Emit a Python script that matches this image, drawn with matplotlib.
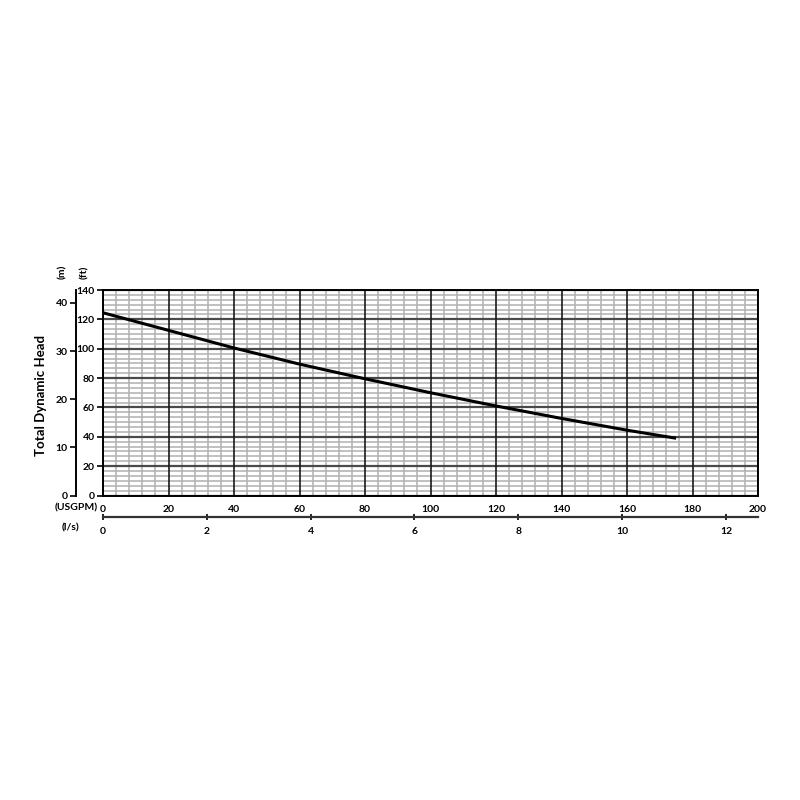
import matplotlib
matplotlib.use("Agg")
import matplotlib.pyplot as plt
import numpy as np
from matplotlib.ticker import MultipleLocator, FixedLocator

plt.rcParams['font.family'] = ['Lato', 'DejaVu Sans']
plt.rcParams['font.weight'] = 'bold'

# Pump curve data (flow in USGPM, head in ft)
flow_usgpm = [0, 20, 40, 60, 80, 100, 120, 140, 160, 175]
head_ft = [124.5, 112.5, 100.5, 89.5, 79.5, 70.0, 61.0, 52.5, 44.5, 39.0]

x_ticks = [0, 20, 40, 60, 80, 100, 120, 140, 160, 180, 200]
y_ticks_ft = [0, 20, 40, 60, 80, 100, 120, 140]
y_ticks_m = [0, 10, 20, 30, 40]
x_ticks_ls = [0, 2, 4, 6, 8, 10, 12]

FT_PER_M = 3.28084
USGPM_PER_LS = 15.850323

fig = plt.figure(figsize=(8, 8), dpi=100)
ax = fig.add_axes([103/800, 1-495.5/800, 655/800, 205.5/800])

XMAX, YMAX = 200, 140
ax.set_xlim(0, XMAX)
ax.set_ylim(0, YMAX)
ax.xaxis.set_major_locator(FixedLocator(x_ticks))
ax.yaxis.set_major_locator(FixedLocator(y_ticks_ft))
ax.xaxis.set_minor_locator(MultipleLocator(4))
ax.yaxis.set_minor_locator(MultipleLocator(20/6))

# minor grid
ax.grid(which='minor', axis='both', color='#b0b0b0', lw=1.1, zorder=0)
ax.set_axisbelow(True)
# major grid lines drawn above minor grid
ax.hlines(y_ticks_ft, 0, XMAX, colors='#4a4a4a', lw=1.6, zorder=2)
ax.vlines(x_ticks, 0, YMAX, colors='#1a1a1a', lw=1.2, zorder=2.5)

ax.plot(flow_usgpm, head_ft, color='black', lw=2.2, solid_capstyle='butt', zorder=5)

for s in ax.spines.values():
    s.set_color('black')
    s.set_linewidth(1.4)
    s.set_zorder(6)

FS = 7.5
ax.tick_params(which='minor', length=0)
ax.tick_params(axis='y', which='major', length=4, width=1.2, pad=2, labelsize=FS)
ax.tick_params(axis='x', which='major', length=0, pad=7, labelsize=FS)
ax.set_xticklabels([str(v) for v in x_ticks], fontweight='bold')
ax.set_yticklabels([str(v) for v in y_ticks_ft], fontweight='bold')

# secondary meter axis
secy = ax.secondary_yaxis(-27/655, functions=(lambda f: f / FT_PER_M, lambda m: m * FT_PER_M))
secy.yaxis.set_major_locator(FixedLocator(y_ticks_m))
secy.tick_params(length=4, width=1.2, pad=2, labelsize=FS)
secy.spines['left'].set_linewidth(1.4)
secy.set_yticklabels([str(v) for v in y_ticks_m], fontweight='bold')

# secondary l/s axis
secx = ax.secondary_xaxis(-21.5/205.5, functions=(lambda q: q / USGPM_PER_LS, lambda l: l * USGPM_PER_LS))
secx.xaxis.set_major_locator(FixedLocator(x_ticks_ls))
secx.tick_params(direction='inout', length=5, width=1.2, pad=5, labelsize=FS)
secx.spines['bottom'].set_linewidth(1.6)
secx.spines['bottom'].set_color('#333333')
secx.set_xticklabels([str(v) for v in x_ticks_ls], fontweight='bold')

# labels
fig.text(41/800, 1-395/800, 'Total Dynamic Head', rotation=90, ha='center', va='center',
         fontsize=9.5, fontweight='bold')
fig.text(63/800, 1-272/800, '(m)', rotation=90, ha='center', va='center', fontsize=7.5, fontweight='bold')
fig.text(85/800, 1-272/800, '(ft)', rotation=90, ha='center', va='center', fontsize=7.5, fontweight='bold')
fig.text(76/800, 1-508/800, '(USGPM)', ha='center', va='center', fontsize=FS, fontweight='bold')
fig.text(70/800, 1-528/800, '(l/s)', ha='center', va='center', fontsize=FS, fontweight='bold')

fig.savefig('out.png', dpi=100, facecolor='white')
